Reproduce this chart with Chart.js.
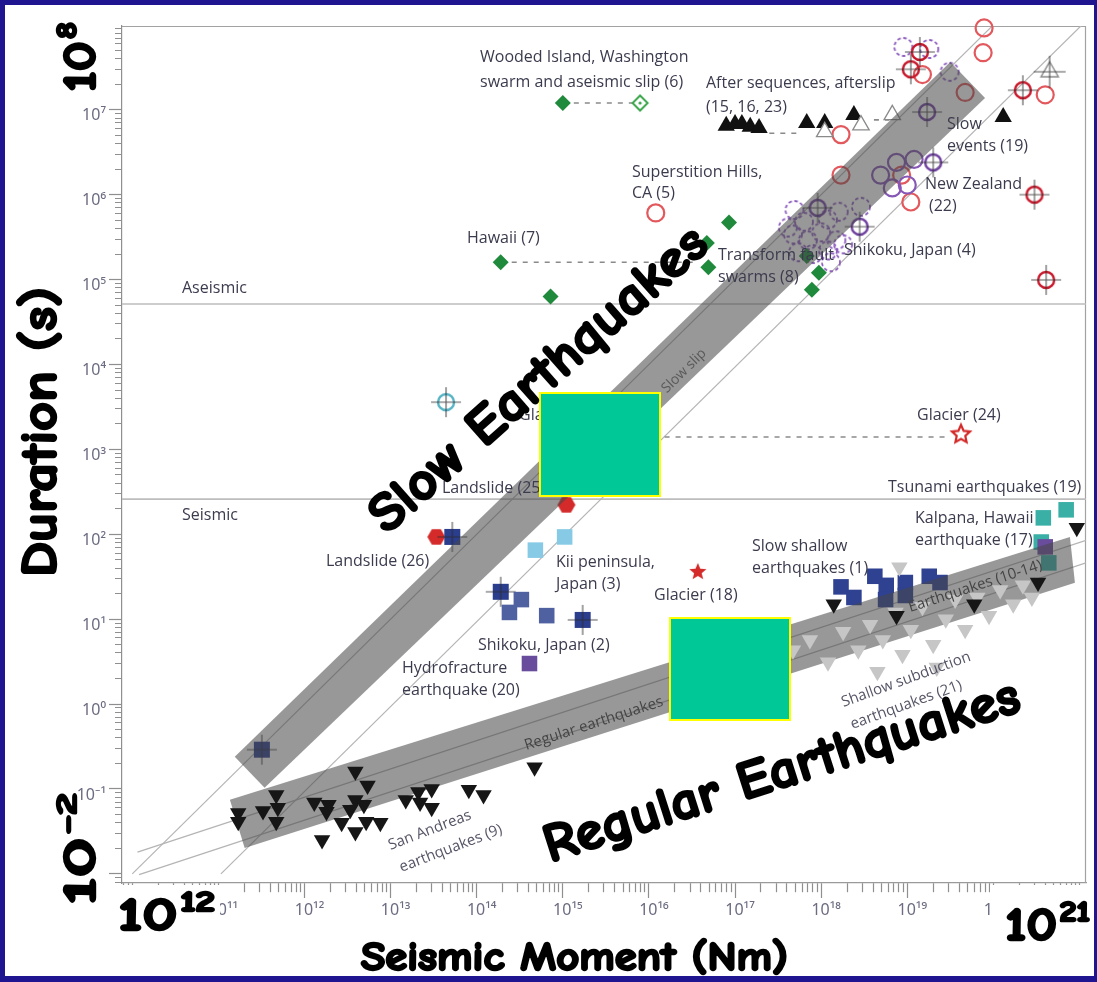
<!DOCTYPE html>
<html>
<head>
<meta charset="utf-8">
<script src="https://cdn.jsdelivr.net/npm/chart.js@4.4.1/dist/chart.umd.min.js"></script>
<style>
  html, body { margin: 0; padding: 0; background: #1f1590; }
  canvas { display: block; }
</style>
</head>
<body>
<canvas id="chart" width="1097" height="982"></canvas>
<script>
// ---------- axis ranges and tick labels ----------
const momentRange = [7.6e9, 1.19e21];          // seismic moment (Nm)
const durationRange = [7.8e-3, 9.7e7];         // duration (s)
const momentLabelExponents = [11, 12, 13, 14, 15, 16, 17, 18, 19, 20];
const durationLabelExponents = [-1, 0, 1, 2, 3, 4, 5, 6, 7];

// regime boundaries (duration, s)
const aseismicBoundary = 5.15e4;
const seismicBoundary = 259;

// scaling lines [moment, duration] end points
const slowLineUpper = [[1e10, 1e-2], [1e20, 1e8]];
const slowLineLower = [[1.07e11, 1e-2], [1.07e21, 1e8]];
const regularLineUpper = [[1.15e10, 1.8e-2], [1.19e21, 85]];
const regularLineLower = [[1.2e10, 9.8e-3], [1.19e21, 46]];

// shaded scaling bands (corners, [moment, duration])
const slowBand = [[1.55e11, 0.239], [3.44e11, 0.103], [8.0e19, 1.38e7], [3.16e19, 3.66e7]];
const regularBand = [[1.36e11, 0.0745], [2.02e11, 0.0202], [8.85e20, 26.8], [7.74e20, 93.1]];

// dashed links between related events
const woodedLink = [[1.0e15, 1.2e7], [7.9e15, 1.2e7]];
const hawaiiLink = [[1.9e14, 1.6e5], [3.7e16, 1.6e5]];
const afterslipLinkA = [[2.5e17, 5.3e6], [5.8e17, 5.3e6]];
const afterslipLinkB = [[4.1e18, 7.6e6], [6.2e18, 7.6e6]];
const glacierLink = [[2.6e15, 1.4e3], [3.1e19, 1.4e3]];

// ---------- events [moment (Nm), duration (s)] ----------
const redOpenCircles = [[7.8e19, 9.2e7], [7.6e19, 4.7e7], [1.5e19, 2.6e7], [4.7e19, 1.6e7], [1.7e18, 5.1e6],
  [4.0e20, 1.5e7], [1.7e18, 1.7e6], [8.6e18, 1.7e6], [1.1e19, 8.2e5], [1.2e16, 6.1e5]];
const redRingCross = [[1.4e19, 4.8e7], [1.1e19, 3.0e7], [2.2e20, 1.7e7], [3.0e20, 1.0e6], [4.1e20, 9.9e4]];
const purpleDashed = [[9.0e18, 5.5e7], [1.8e19, 5.2e7], [3.1e19, 2.8e7], [4.9e17, 6.6e5], [6.3e17, 4.8e5],
  [1.2e18, 5.1e5], [1.6e18, 6.3e5], [4.7e17, 3.4e5], [7.0e17, 2.9e5], [1.0e18, 3.6e5], [1.5e18, 2.9e5],
  [5.4e17, 2.1e5], [8.0e17, 2.0e5], [1.2e18, 2.2e5], [1.8e18, 2.6e5], [1.3e18, 1.6e5], [2.9e18, 7.2e5],
  [4.1e17, 4.1e5]];
const purpleCircles = [[4.9e18, 1.7e6], [7.5e18, 2.4e6], [1.2e19, 2.6e6], [6.7e18, 1.2e6], [1.0e19, 1.3e6]];
const purpleRingCross = [[1.7e19, 9.4e6], [2.0e19, 2.4e6], [9.1e17, 7.0e5], [2.8e18, 4.2e5]];
const afterslipFilled = [[7.9e16, 6.5e6], [1.0e17, 6.8e6], [1.2e17, 6.8e6], [1.5e17, 6.3e6], [1.9e17, 6.1e6],
  [6.8e17, 7.0e6], [1.1e18, 7.0e6], [2.4e18, 8.7e6], [1.3e20, 8.2e6]];
const afterslipOpen = [[1.1e18, 5.5e6], [2.9e18, 6.6e6], [6.7e18, 8.7e6]];
const afterslipCross = [[4.5e20, 2.8e7]];
const swarmDiamonds = [[1.0e15, 1.2e7], [1.9e14, 1.6e5], [8.5e16, 4.7e5], [4.7e16, 2.7e5], [4.9e16, 1.4e5],
  [7.2e14, 6.3e4], [6.8e17, 1.9e5], [9.4e17, 1.2e5], [7.8e17, 7.6e4]];
const swarmOpenDiamond = [[7.9e15, 1.2e7]];
const cyanRingCross = [[4.4e13, 3.6e3]];
const landslides = [[3.4e13, 93], [1.1e15, 222]];
const navySquaresCross = [[5.2e13, 93], [1.9e14, 21], [1.7e15, 9.8], [3.2e11, 0.29]];
const shikokuSquares = [[3.3e14, 17], [2.4e14, 12], [6.5e14, 11]];
const slowShallowSquares = [[1.7e18, 24], [2.4e18, 18], [4.2e18, 32], [5.7e18, 25], [5.6e18, 17],
  [9.5e18, 27], [1.8e19, 32], [2.4e19, 27], [9.5e18, 19]];
const kiiSquares = [[4.8e14, 65], [1.05e15, 93]];
const tsunamiSquares = [[7.0e20, 194], [3.8e20, 156], [3.6e20, 81], [4.4e20, 46]];
const purpleSquares = [[4.1e14, 3.0], [4.0e20, 71]];
const glacierFilledStar = [[3.7e16, 36]];
const glacierOpenStar = [[4.2e19, 1.5e3]];
const subductionTriangles = [[4.7e17, 4.3], [7.4e17, 5.7], [1.2e18, 3.1], [1.8e18, 7.1], [2.7e18, 4.3],
  [3.7e18, 8.6], [5.2e18, 5.7], [7.3e18, 12], [8.8e18, 3.8], [1.1e19, 7.5], [1.5e19, 14], [2.0e19, 5.0],
  [2.8e19, 10], [3.6e19, 17], [4.7e19, 7.5], [6.5e19, 18], [8.9e19, 11], [1.2e20, 22], [1.7e20, 15],
  [2.2e20, 25], [2.8e20, 18], [8.1e18, 41], [4.5e18, 2.4], [2.2e19, 2.7]];
const regularTriangles = [[1.7e11, 0.052], [1.7e11, 0.041], [3.3e11, 0.055], [4.7e11, 0.085], [4.9e11, 0.060],
  [4.7e11, 0.041], [1.3e12, 0.069], [1.9e12, 0.065], [1.8e12, 0.054], [1.6e12, 0.025], [2.7e12, 0.040],
  [3.9e12, 0.16], [5.4e12, 0.11], [3.9e12, 0.074], [3.4e12, 0.057], [4.9e12, 0.065], [3.9e12, 0.031],
  [5.2e12, 0.041], [7.6e12, 0.040], [1.5e13, 0.074], [2.1e13, 0.092], [2.2e13, 0.069], [3.0e13, 0.10],
  [3.0e13, 0.060], [8.1e13, 0.098], [1.2e14, 0.085], [4.7e14, 0.18],
  [1.4e18, 15], [7.5e18, 11], [6.0e19, 15], [3.3e20, 27], [9.3e20, 119]];

// ---------- text placed on the figure ----------
const notes = [
  ['Wooded Island, Washington', 480, 57], ['swarm and aseismic slip (6)', 480, 82],
  ['After sequences, afterslip', 706, 83], ['(15, 16, 23)', 706, 107],
  ['Superstition Hills,', 632, 172], ['CA (5)', 632, 193],
  ['Hawaii (7)', 467, 238],
  ['Transform fault', 718, 255], ['swarms (8)', 718, 277],
  ['Shikoku, Japan (4)', 844, 250],
  ['Slow', 947, 124], ['events (19)', 947, 146],
  ['New Zealand', 925, 184], ['(22)', 929, 206],
  ['Aseismic', 182, 288], ['Seismic', 182, 515],
  ['Glacier', 519, 415], ['Landslide (25)', 442, 488], ['Landslide (26)', 326, 561],
  ['Kii peninsula,', 556, 562], ['Japan (3)', 556, 584],
  ['Glacier (18)', 654, 595], ['Shikoku, Japan (2)', 478, 645],
  ['Hydrofracture', 402, 668], ['earthquake (20)', 402, 690],
  ['Slow shallow', 752, 546], ['earthquakes (1)', 752, 568],
  ['Kalpana, Hawaii', 915, 518], ['earthquake (17)', 915, 540],
  ['Tsunami earthquakes (19)', 888, 487], ['Glacier (24)', 917, 415]
];
const slantedNotes = [
  ['Slow slip', 684, 371, -44.5, 'center', '#5a5a5a', 14],
  ['Regular earthquakes', 525, 746, -18, 'left', '#444', 15],
  ['Earthquakes (10-14)', 909, 608, -18, 'left', '#444', 15],
  ['Shallow subduction', 842, 703, -20, 'left', '#555566', 15],
  ['earthquakes (21)', 851, 725, -20, 'left', '#555566', 15],
  ['San Andreas', 389, 846, -21, 'left', '#555566', 15],
  ['earthquakes (9)', 400, 868, -21, 'left', '#555566', 15]
];

// ---------- marker images ----------
function markerCanvas(size, draw) {
  const c = document.createElement('canvas');
  c.width = c.height = size;
  const g = c.getContext('2d');
  g.translate(size / 2, size / 2);
  draw(g);
  return c;
}
function crossHair(g, len) {
  g.strokeStyle = 'rgba(45,45,45,0.8)';
  g.lineWidth = 1.1;
  g.setLineDash([]);
  g.beginPath();
  g.moveTo(-len, 0); g.lineTo(len, 0);
  g.moveTo(0, -len); g.lineTo(0, len);
  g.stroke();
}
const ringCross = color => markerCanvas(34, g => {
  g.strokeStyle = color; g.lineWidth = 2.4;
  g.beginPath(); g.arc(0, 0, 8, 0, Math.PI * 2); g.stroke();
  crossHair(g, 15);
});
const dashedRing = color => markerCanvas(24, g => {
  g.strokeStyle = color; g.lineWidth = 1.8; g.setLineDash([3.5, 2.5]);
  g.beginPath(); g.arc(0, 0, 9, 0, Math.PI * 2); g.stroke();
});
const squareCross = color => markerCanvas(34, g => {
  g.fillStyle = color; g.fillRect(-8, -8, 16, 16);
  crossHair(g, 15);
});
const triangleCross = markerCanvas(36, g => {
  g.fillStyle = '#fff'; g.strokeStyle = '#888'; g.lineWidth = 1.4;
  g.beginPath(); g.moveTo(0, -10); g.lineTo(8.7, 5); g.lineTo(-8.7, 5); g.closePath();
  g.fill(); g.stroke();
  crossHair(g, 16);
});
const openDiamond = markerCanvas(22, g => {
  g.strokeStyle = '#3aa64a'; g.lineWidth = 2;
  g.beginPath(); g.moveTo(0, -7.5); g.lineTo(7.5, 0); g.lineTo(0, 7.5); g.lineTo(-7.5, 0); g.closePath(); g.stroke();
  g.fillStyle = '#3aa64a'; g.beginPath(); g.arc(0, 0, 1.6, 0, Math.PI * 2); g.fill();
});
function starPath(g, ro, ri) {
  g.beginPath();
  for (let i = 0; i < 10; i++) {
    const r = i % 2 ? ri : ro;
    const a = -Math.PI / 2 + i * Math.PI / 5;
    g.lineTo(Math.cos(a) * r, Math.sin(a) * r);
  }
  g.closePath();
}
const filledStar = markerCanvas(24, g => { g.fillStyle = '#d42a2a'; starPath(g, 9, 4); g.fill(); });
const hollowStar = markerCanvas(26, g => { g.strokeStyle = '#d42a2a'; g.lineWidth = 2.2; starPath(g, 9.5, 4.5); g.stroke(); });
const hexagon = markerCanvas(24, g => {
  g.fillStyle = '#d42a2a'; g.beginPath();
  for (let i = 0; i < 6; i++) { const a = i * Math.PI / 3; g.lineTo(Math.cos(a) * 9, Math.sin(a) * 9); }
  g.closePath(); g.fill();
});

// ---------- datasets ----------
function series(points, style) {
  return Object.assign({
    data: points.map(([x, y]) => ({ x, y })),
    showLine: false, clip: false, pointBorderWidth: 0,
    pointBackgroundColor: 'rgba(0,0,0,0)', pointBorderColor: 'rgba(0,0,0,0)'
  }, style);
}
const datasets = [
  series(redOpenCircles, { pointStyle: 'circle', pointRadius: 8.5, pointBorderWidth: 2.2, pointBorderColor: '#e2585c' }),
  series(purpleDashed, { pointStyle: dashedRing('#8e5fbf') }),
  series(purpleCircles, { pointStyle: 'circle', pointRadius: 8.5, pointBorderWidth: 2.2, pointBorderColor: '#8757b6' }),
  series(redRingCross, { pointStyle: ringCross('#c8192c') }),
  series(purpleRingCross, { pointStyle: ringCross('#6e3fa0') }),
  series(afterslipFilled, { pointStyle: 'triangle', pointRadius: 10, pointBackgroundColor: '#111' }),
  series(afterslipOpen, { pointStyle: 'triangle', pointRadius: 9.5, pointBackgroundColor: '#fff', pointBorderColor: '#8a8a8a', pointBorderWidth: 1.3 }),
  series(afterslipCross, { pointStyle: triangleCross }),
  series(swarmDiamonds, { pointStyle: 'rectRot', pointRadius: 8, pointBackgroundColor: '#1f8a3b' }),
  series(swarmOpenDiamond, { pointStyle: openDiamond }),
  series(cyanRingCross, { pointStyle: ringCross('#55b3c4') }),
  series(landslides, { pointStyle: hexagon }),
  series(navySquaresCross, { pointStyle: squareCross('#2b3d8d') }),
  series(shikokuSquares, { pointStyle: 'rect', pointRadius: 11, pointBackgroundColor: '#5061a2' }),
  series(slowShallowSquares, { pointStyle: 'rect', pointRadius: 11, pointBackgroundColor: '#2f4191' }),
  series(kiiSquares, { pointStyle: 'rect', pointRadius: 11, pointBackgroundColor: '#86cae6' }),
  series(tsunamiSquares, { pointStyle: 'rect', pointRadius: 11, pointBackgroundColor: '#3aafa6' }),
  series(purpleSquares, { pointStyle: 'rect', pointRadius: 11, pointBackgroundColor: '#6a4c9c' }),
  series(glacierFilledStar, { pointStyle: filledStar }),
  series(glacierOpenStar, { pointStyle: hollowStar }),
  series(subductionTriangles, { pointStyle: 'triangle', pointRotation: 180, pointRadius: 9.5, pointBackgroundColor: '#c6c6c6', aboveBands: true }),
  series(regularTriangles, { pointStyle: 'triangle', pointRotation: 180, pointRadius: 9.5, pointBackgroundColor: '#161616', aboveBands: true })
];
datasets.forEach((d, i) => { d.order = 1000 - i; });

// ---------- helpers ----------
const SUP = { '-': '\u207B', '0': '\u2070', '1': '\u00B9', '2': '\u00B2', '3': '\u00B3', '4': '\u2074',
  '5': '\u2075', '6': '\u2076', '7': '\u2077', '8': '\u2078', '9': '\u2079' };
const powerLabel = e => '10' + String(e).split('').map(c => SUP[c]).join('');

function logTicks(lo, hi) {
  const out = [];
  for (let e = Math.floor(Math.log10(lo)); e <= Math.ceil(Math.log10(hi)); e++) {
    for (let m = 1; m <= 9; m++) {
      const v = m * Math.pow(10, e);
      if (v >= lo && v <= hi) out.push({ value: v, major: m === 1, exp: e });
    }
  }
  return out;
}
const P = (chart, pt) => [chart.scales.x.getPixelForValue(pt[0]), chart.scales.y.getPixelForValue(pt[1])];

function strokePath(ctx, chart, pts, color, width, dash) {
  ctx.save();
  ctx.strokeStyle = color; ctx.lineWidth = width; ctx.setLineDash(dash || []);
  ctx.beginPath();
  pts.forEach((p, i) => { const [x, y] = P(chart, p); i ? ctx.lineTo(x, y) : ctx.moveTo(x, y); });
  ctx.stroke();
  ctx.restore();
}
function fillBand(ctx, chart, pts) {
  ctx.save();
  ctx.fillStyle = 'rgba(72,72,72,0.56)';
  ctx.beginPath();
  pts.forEach((p, i) => { const [x, y] = P(chart, p); i ? ctx.lineTo(x, y) : ctx.moveTo(x, y); });
  ctx.closePath(); ctx.fill();
  ctx.restore();
}

const BIG_FONT = '"Comic Sans MS","Comic Neue","DejaVu Sans",sans-serif';
function inkText(ctx, text, x, y) {
  ctx.lineJoin = 'round';
  ctx.lineWidth = 2.4;
  ctx.strokeStyle = '#000';
  ctx.strokeText(text, x, y);
  ctx.fillText(text, x, y);
}
function bigText(ctx, text, x, y, angle, size, width, align, baseline) {
  ctx.save();
  ctx.translate(x, y);
  ctx.rotate(angle * Math.PI / 180);
  ctx.font = `bold ${size}px ${BIG_FONT}`;
  ctx.scale(width / ctx.measureText(text).width, 1);
  ctx.textAlign = align; ctx.textBaseline = baseline || 'alphabetic';
  ctx.fillStyle = '#000';
  inkText(ctx, text, 0, 0);
  ctx.restore();
}
function bigPower(ctx, exp, x, y, angle, size, width) {
  ctx.save();
  ctx.translate(x, y);
  ctx.rotate(angle * Math.PI / 180);
  ctx.font = `bold ${size}px ${BIG_FONT}`;
  const wb = ctx.measureText('10').width;
  const supFont = `bold ${Math.round(size * 0.62)}px ${BIG_FONT}`;
  ctx.font = supFont;
  const we = ctx.measureText(exp).width;
  ctx.scale(width / (wb + we + 2), 1);
  ctx.fillStyle = '#000'; ctx.textAlign = 'left'; ctx.textBaseline = 'alphabetic';
  ctx.font = `bold ${size}px ${BIG_FONT}`;
  inkText(ctx, '10', 0, 0);
  ctx.font = supFont;
  inkText(ctx, exp, wb + 2, -size * 0.42);
  ctx.restore();
}

// ---------- plugin: page, reference lines, bands, annotations ----------
const figurePlugin = {
  id: 'figure',
  beforeDraw(chart) {
    const ctx = chart.ctx;
    ctx.save();
    ctx.fillStyle = '#1f1590'; ctx.fillRect(0, 0, chart.width, chart.height);
    ctx.fillStyle = '#ffffff'; ctx.fillRect(5, 5, 1089, 971);
    ctx.restore();
  },
  beforeDatasetsDraw(chart) {
    const ctx = chart.ctx, a = chart.chartArea;
    this._bands = false;
    ctx.save();
    // frame top and right
    ctx.strokeStyle = '#a2a2a2'; ctx.lineWidth = 1.2;
    ctx.beginPath();
    ctx.moveTo(a.left, a.top + 0.5); ctx.lineTo(a.right - 0.5, a.top + 0.5); ctx.lineTo(a.right - 0.5, a.bottom);
    ctx.stroke();
    ctx.beginPath(); ctx.rect(a.left, a.top, a.right - a.left, a.bottom - a.top); ctx.clip();
    [aseismicBoundary, seismicBoundary].forEach(v => {
      const y = chart.scales.y.getPixelForValue(v);
      ctx.strokeStyle = '#bdbdbd'; ctx.lineWidth = 1.6;
      ctx.beginPath(); ctx.moveTo(a.left, y); ctx.lineTo(a.right, y); ctx.stroke();
    });
    [slowLineUpper, slowLineLower, regularLineUpper, regularLineLower].forEach(l =>
      strokePath(ctx, chart, l, '#b4b4b4', 1.2));
    ctx.restore();
    [woodedLink, hawaiiLink, afterslipLinkA, afterslipLinkB, glacierLink].forEach(l =>
      strokePath(ctx, chart, l, '#8a8a8a', 1.6, [5, 6]));
  },
  beforeDatasetDraw(chart, args) {
    const ds = chart.data.datasets[args.index];
    if (ds.aboveBands && !this._bands) {
      fillBand(chart.ctx, chart, slowBand);
      fillBand(chart.ctx, chart, regularBand);
      this._bands = true;
    }
  },
  afterDatasetsDraw(chart) {
    const ctx = chart.ctx;
    ctx.save();
    ctx.fillStyle = '#3b3b4e';
    ctx.font = '16px "Open Sans", "Noto Sans", sans-serif';
    ctx.textAlign = 'left'; ctx.textBaseline = 'middle';
    notes.forEach(([t, x, y]) => ctx.fillText(t, x, y));
    slantedNotes.forEach(([t, x, y, ang, align, col, size]) => {
      ctx.save();
      ctx.translate(x, y); ctx.rotate(ang * Math.PI / 180);
      ctx.font = `${size}px "Open Sans", "Noto Sans", sans-serif`;
      ctx.fillStyle = col; ctx.textAlign = align; ctx.textBaseline = 'middle';
      ctx.fillText(t, 0, 0);
      ctx.restore();
    });
    ctx.restore();
  },
  afterDraw(chart) {
    const ctx = chart.ctx;
    ctx.save();
    // pasted white patches over the ends of the moment axis labels
    ctx.fillStyle = '#ffffff';
    ctx.fillRect(100, 885, 120, 91);
    ctx.fillRect(990, 885, 104, 91);
    // green boxes
    ctx.fillStyle = '#00c896'; ctx.strokeStyle = '#ffff00'; ctx.lineWidth = 2;
    [[540, 393, 120, 103], [670, 618, 120, 102]].forEach(([x, y, w, h]) => {
      ctx.fillRect(x, y, w, h); ctx.strokeRect(x, y, w, h);
    });
    ctx.restore();
    // large overlay captions
    bigText(ctx, 'Duration (s)', 56, 577, -90, 51, 290, 'left');
    bigText(ctx, 'Seismic Moment (Nm)', 361, 970, 0, 41, 427, 'left');
    bigText(ctx, 'Slow Earthquakes', 539, 380, -41.5, 54, 433, 'center', 'middle');
    bigText(ctx, 'Regular Earthquakes', 782, 772, -17.8, 54, 497, 'center', 'middle');
    bigPower(ctx, '8', 95, 92, -90, 46, 70);
    bigPower(ctx, '\u22122', 95, 905, -90, 46, 112);
    bigPower(ctx, '12', 118, 930, 0, 46, 97);
    bigPower(ctx, '21', 1005, 940, 0, 46, 85);
  }
};

// ---------- chart ----------
const tickFont = { family: '"Noto Sans", "Open Sans", sans-serif', size: 16 };
new Chart(document.getElementById('chart'), {
  type: 'scatter',
  data: { datasets },
  plugins: [figurePlugin],
  options: {
    responsive: false, animation: false, devicePixelRatio: 1, events: [],
    layout: { padding: { left: 0, right: 8, top: 26, bottom: 0 } },
    plugins: { legend: { display: false }, tooltip: { enabled: false } },
    scales: {
      x: {
        type: 'logarithmic', min: momentRange[0], max: momentRange[1],
        afterBuildTicks: s => { s.ticks = logTicks(momentRange[0], momentRange[1]); },
        afterFit: s => { s.height = 99; },
        border: { display: true, color: '#9a9a9a', width: 1.2 },
        grid: { drawOnChartArea: false, drawTicks: true, tickLength: 15, tickColor: '#8f8f8f', tickWidth: 1.2,
          tickBorderDash: c => (c.tick && c.tick.major) ? [] : [9, 60] },
        ticks: { autoSkip: false, maxRotation: 0, minRotation: 0, padding: 3, labelOffset: 5,
          color: '#6b6b82', font: tickFont,
          callback: (v, i, t) => (t[i].major && momentLabelExponents.includes(t[i].exp)) ? powerLabel(t[i].exp) : '' }
      },
      y: {
        type: 'logarithmic', min: durationRange[0], max: durationRange[1],
        afterBuildTicks: s => { s.ticks = logTicks(durationRange[0], durationRange[1]); },
        afterFit: s => { s.width = 122; },
        border: { display: true, color: '#8f8f8f', width: 1.2 },
        grid: { drawOnChartArea: false, drawTicks: true, tickLength: 13, tickColor: '#8f8f8f', tickWidth: 1.2,
          tickBorderDash: c => (c.tick && c.tick.major) ? [] : [0, 6, 7, 60] },
        ticks: { autoSkip: false, padding: 3, labelOffset: 6, color: '#6b6b82', font: tickFont,
          callback: (v, i, t) => (t[i].major && durationLabelExponents.includes(t[i].exp)) ? powerLabel(t[i].exp) : '' }
      }
    }
  }
});
</script>
</body>
</html>
